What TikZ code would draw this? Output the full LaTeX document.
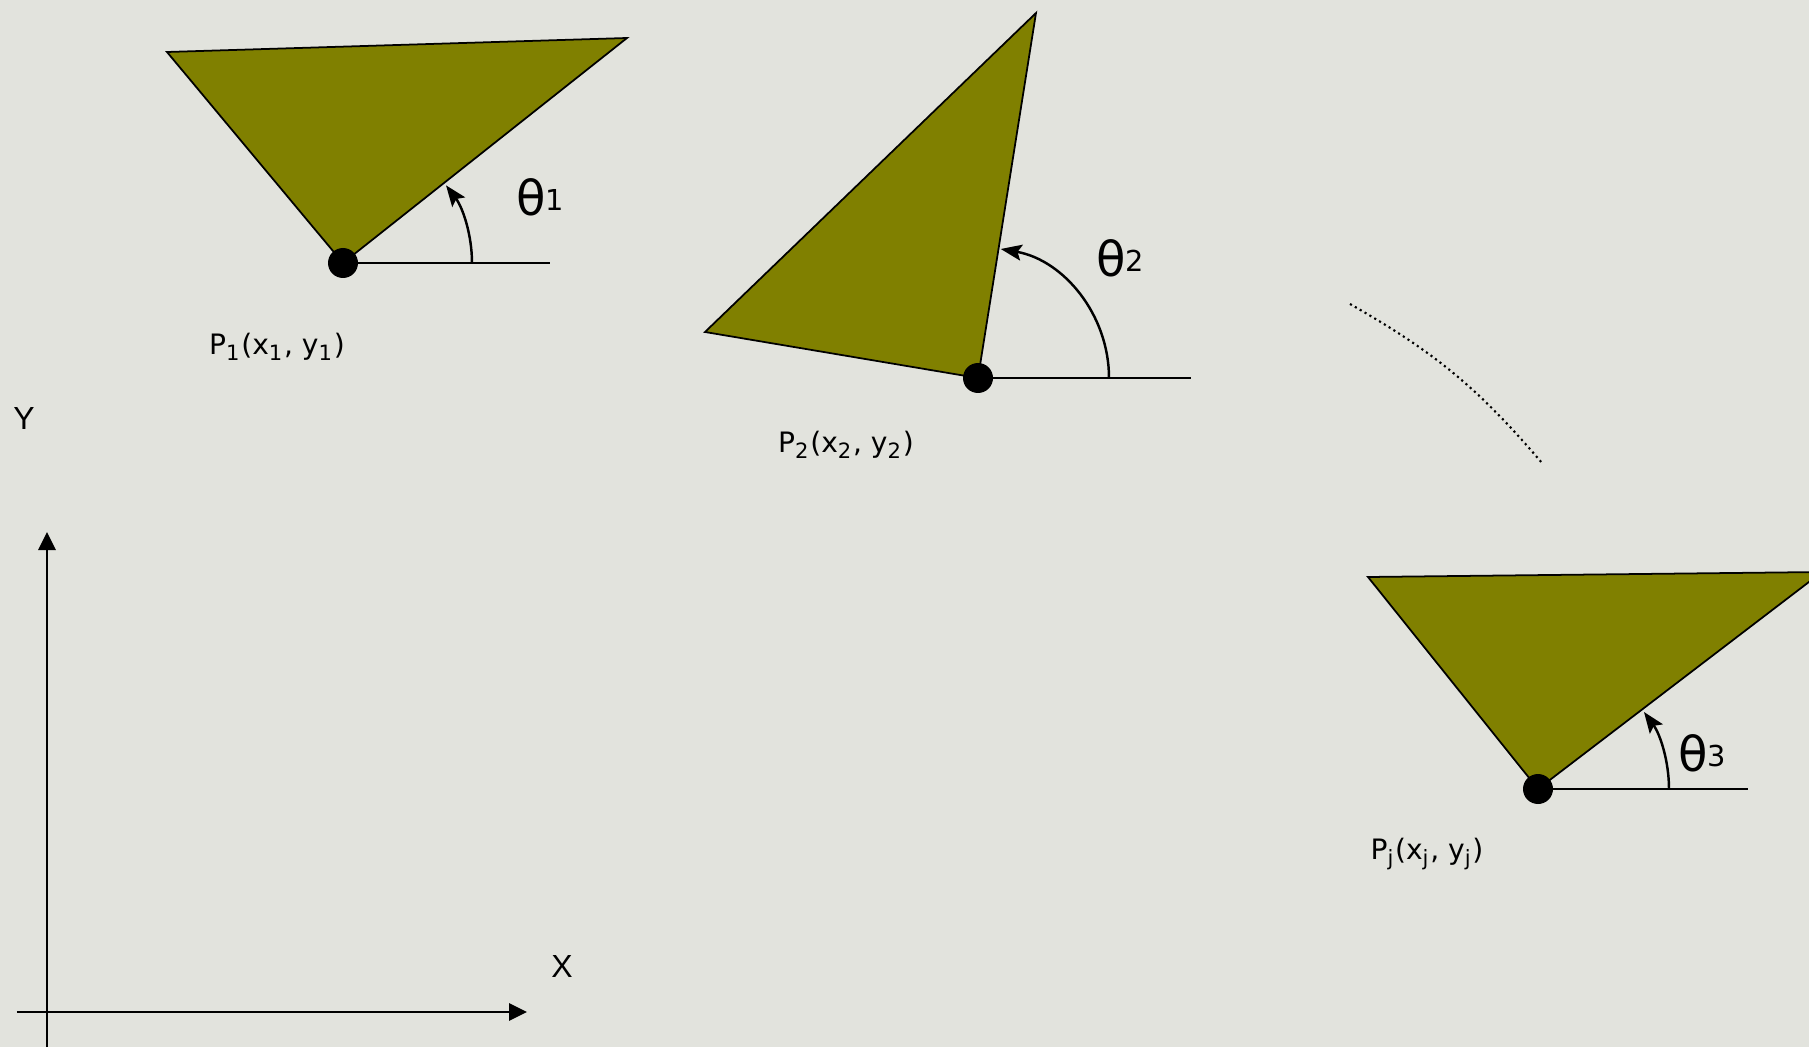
\documentclass[tikz,border=0pt]{standalone}
\usepackage{fontspec}
\setmainfont{DejaVu Sans}
\newfontfamily\axisfont{Liberation Sans}
\usetikzlibrary{arrows.meta}
\definecolor{paper}{RGB}{226,227,221}
\definecolor{plate}{RGB}{128,128,0}

\begin{document}
\begin{tikzpicture}[
  body/.style={fill=plate, draw=black, line width=0.5pt},
  pivot/.style={circle, fill=black, minimum size=0.3cm, inner sep=0pt},
  turn/.style={line width=0.7pt, -{Stealth[length=0.21cm,width=0.16cm,inset=0.04cm]}},
  ref/.style={line width=0.6pt},
  axis/.style={line width=0.8pt, -{Triangle[length=0.18cm,width=0.17cm]}},
  plbl/.style={font=\fontsize{8}{10}\selectfont, inner sep=0pt},
  tlbl/.style={font=\fontsize{13.7}{16}\selectfont, inner sep=0pt},
  albl/.style={font=\axisfont\fontsize{9.1}{11}\selectfont, inner sep=0pt}
]
\useasboundingbox (0,0) rectangle (18.09,10.47);
\fill[paper] (0,0) rectangle (18.09,10.47);
\clip (0,0) rectangle (18.09,10.47);

% first position
\coordinate (p1) at (3.43,7.84);
\coordinate (h1) at (5.50,7.84);
\filldraw[body] (p1) -- (1.67,9.95) -- (6.27,10.09) -- cycle;
\draw[ref] (p1) -- (h1);
\draw[turn] ([xshift=1.29cm]p1) arc[start angle=0, end angle=37, radius=1.29cm];
\node[pivot] (d1) at (p1) {};
\node[plbl] (l1) at (2.77,7.00) {P\textsubscript{1}(x\textsubscript{1}, y\textsubscript{1})};
\node[tlbl] (t1) at (5.40,8.50) {θ\raisebox{0.05cm}{\fontsize{8.2}{10}\selectfont 1}};

% second position
\coordinate (p2) at (9.78,6.69);
\coordinate (h2) at (11.91,6.69);
\filldraw[body] (p2) -- (7.05,7.15) -- (10.36,10.34) -- cycle;
\draw[ref] (p2) -- (h2);
\draw[turn] ([xshift=1.31cm]p2) arc[start angle=0, end angle=80, radius=1.31cm];
\node[pivot] (d2) at (p2) {};
\node[plbl] (l2) at (8.46,6.02) {P\textsubscript{2}(x\textsubscript{2}, y\textsubscript{2})};
\node[tlbl] (t2) at (11.20,7.89) {θ\raisebox{0.05cm}{\fontsize{8.2}{10}\selectfont 2}};

% path in between
\coordinate (c1) at (13.50,7.43);
\coordinate (c2) at (15.42,5.84);
\draw[line width=0.6pt, densely dotted] (c1) to[bend left=10] (c2);

% j-th position
\coordinate (p3) at (15.38,2.58);
\coordinate (h3) at (17.48,2.58);
\filldraw[body] (p3) -- (13.68,4.70) -- (18.22,4.75) -- cycle;
\draw[ref] (p3) -- (h3);
\draw[turn] ([xshift=1.31cm]p3) arc[start angle=0, end angle=36, radius=1.31cm];
\node[pivot] (d3) at (p3) {};
\node[plbl] (l3) at (14.27,1.93) {P\textsubscript{j}(x\textsubscript{j}, y\textsubscript{j})};
\node[tlbl] (t3) at (17.02,2.94) {θ\raisebox{0.05cm}{\fontsize{8.2}{10}\selectfont 3}};

% axes
\coordinate (ybot) at (0.47,0);
\coordinate (ytop) at (0.47,5.15);
\coordinate (xleft) at (0.17,0.35);
\coordinate (xright) at (5.27,0.35);
\draw[axis] (ybot) -- (ytop);
\draw[axis] (xleft) -- (xright);
\node[albl] (ylab) at (0.24,6.29) {Y};
\node[albl] (xlab) at (5.62,0.81) {X};
\end{tikzpicture}
\end{document}
